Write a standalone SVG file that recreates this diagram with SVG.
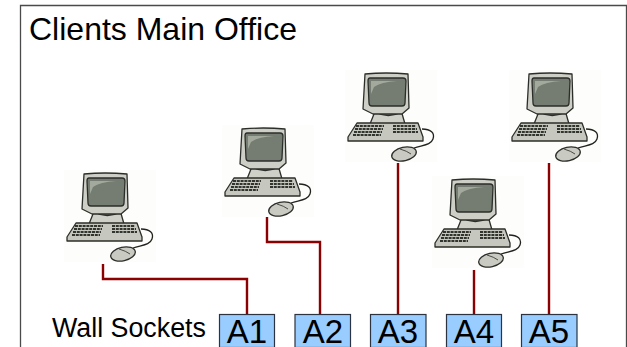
<svg xmlns="http://www.w3.org/2000/svg" width="627" height="347" viewBox="0 0 627 347">
<style>
text{font-family:"Liberation Sans",Arial,sans-serif;fill:#000}
.wire{fill:none;stroke:#8b0000;stroke-width:2.4}
.box{fill:#99ccff;stroke:#2b3440;stroke-width:1.2}
.lbl{font-size:33px;text-anchor:middle}
.ink{stroke:#2c2e29;stroke-width:1.300;stroke-linejoin:round}
</style>
<defs>
<filter id="soft" x="-5%" y="-5%" width="110%" height="110%"><feGaussianBlur stdDeviation="0.4"/></filter>
<g id="pc" filter="url(#soft)">
<rect x="64" y="170" width="92" height="92" fill="#fdfdfc"/>
<path class="ink" d="M93 214 L89 224 H124 L120 210 H93Z" fill="#cfd1c8"/>
<path class="ink" d="M94 212 Q107 219 121 212 L121 205 H94Z" fill="#a4a69d"/>
<path class="ink" d="M84 174 Q105 172 127 174 L128 208 L121 214 H92 L82 209Z" fill="#cdcfc6"/>
<path class="ink" d="M89 178 H122 Q125 178 125 181 L124 203 Q124 206 121 206 H91 Q88 206 88 203 L87 181 Q87 178 89 178Z" fill="#747c71"/>
<path d="M90 181 H116 Q100 182 93 187 L90 194Z" fill="#a3a99d"/>
<path class="ink" d="M76 223 H137 L142 237 V241 H67 V237Z" fill="#c6c8bf"/>
<path d="M75 226 H103 M74 229 H102 M73 232 H101 M72 235 H100 M112 226 H135 M112 229 H136 M112 232 H137" stroke="#33352f" stroke-width="2" stroke-dasharray="3 .8" fill="none"/>
<path d="M141 229 C150 229 154 233 152 239 C150 245 142 245 133 248" fill="none" stroke="#22231f" stroke-width="1.300"/>
<ellipse class="ink" cx="123" cy="254" rx="12.500" ry="6.800" fill="#c9cbc2" transform="rotate(-12 123 254)"/>
<path d="M119 249 Q126 251 130 254" stroke="#4a4b45" stroke-width="1" fill="none"/>
</g>
</defs>
<g id="frame"><path d="M20.500 347 V5.500 H626.500 V347" fill="none" stroke="#4a4a4a" stroke-width="1.300"/></g>
<g id="title"><text x="29" y="40" font-size="32">Clients Main Office</text></g>
<g id="pc1"><use href="#pc"/></g>
<g id="pc2"><use href="#pc" x="158" y="-45"/></g>
<g id="pc3"><use href="#pc" x="281" y="-100"/></g>
<g id="pc4"><use href="#pc" x="368" y="6"/></g>
<g id="pc5"><use href="#pc" x="445" y="-100"/></g>
<g id="connectors">
<path class="wire" d="M103 264 V279 H247 V314"/>
<path class="wire" d="M267 217 V242 H320 V314"/>
<path class="wire" d="M398 163 V314"/>
<path class="wire" d="M474 270 V314"/>
<path class="wire" d="M549 163 V314"/>
</g>
<g id="wall-sockets"><text x="52" y="337" font-size="26.800">Wall Sockets</text></g>
<g id="A1"><rect class="box" x="219.500" y="314.500" width="55" height="33"/><text class="lbl" x="247" y="342.500">A1</text></g>
<g id="A2"><rect class="box" x="295" y="314.500" width="55.500" height="33"/><text class="lbl" x="323" y="342.500">A2</text></g>
<g id="A3"><rect class="box" x="370.500" y="314.500" width="55.500" height="33"/><text class="lbl" x="398" y="342.500">A3</text></g>
<g id="A4"><rect class="box" x="446.500" y="314.500" width="55" height="33"/><text class="lbl" x="474" y="342.500">A4</text></g>
<g id="A5"><rect class="box" x="521.500" y="314.500" width="55.500" height="33"/><text class="lbl" x="549" y="342.500">A5</text></g>
</svg>
